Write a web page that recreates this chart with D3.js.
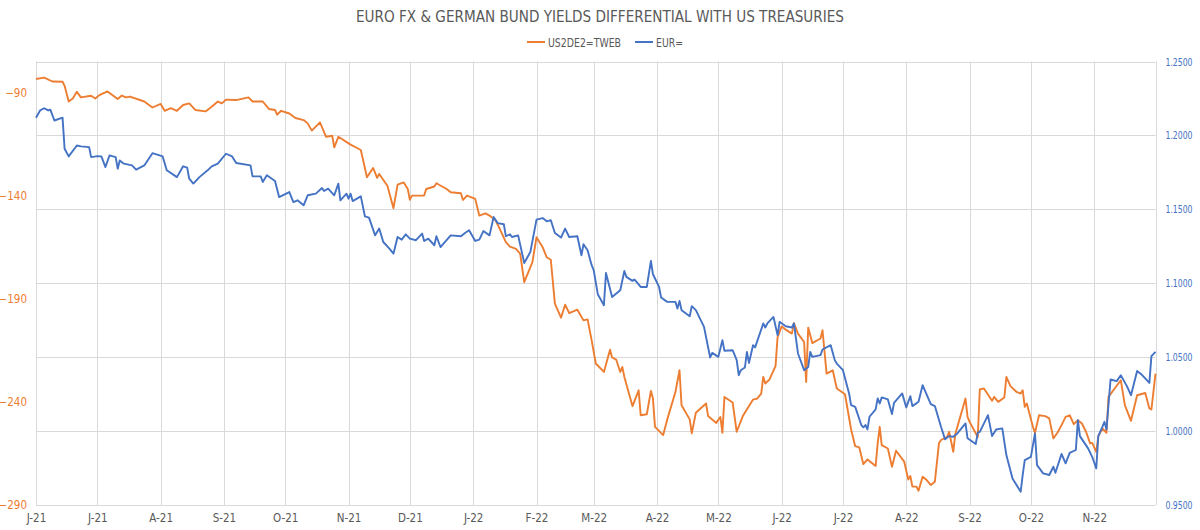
<!DOCTYPE html>
<html>
<head>
<meta charset="utf-8">
<script src="https://cdn.jsdelivr.net/npm/d3@7/dist/d3.min.js"></script>
<style>
  body { margin: 0; background: #fff; }
  text { font-family: "Liberation Sans Narrow", "DejaVu Sans Condensed", Roboto, sans-serif; }
</style>
</head>
<body>
<svg id="chart"></svg>
<script>
// US 2Y - DE 2Y spread (bp), left axis
const spreadDates = [
  "2021-06-01","2021-06-05","2021-06-09","2021-06-14","2021-06-15","2021-06-17","2021-06-19","2021-06-21","2021-06-23","2021-06-28",
  "2021-06-30","2021-07-02","2021-07-06","2021-07-11","2021-07-13","2021-07-15","2021-07-17","2021-07-24","2021-07-28","2021-08-01",
  "2021-08-03","2021-08-06","2021-08-09","2021-08-12","2021-08-15","2021-08-18","2021-08-23","2021-08-26","2021-08-29","2021-08-31",
  "2021-09-02","2021-09-07","2021-09-13","2021-09-15","2021-09-20","2021-09-23","2021-09-26","2021-09-27","2021-09-29","2021-10-03",
  "2021-10-06","2021-10-10","2021-10-12","2021-10-14","2021-10-18","2021-10-21","2021-10-24","2021-10-25","2021-10-27","2021-11-02",
  "2021-11-07","2021-11-10","2021-11-13","2021-11-15","2021-11-16","2021-11-20","2021-11-23","2021-11-25","2021-11-28","2021-11-30",
  "2021-12-01","2021-12-02","2021-12-08","2021-12-09","2021-12-13","2021-12-14","2021-12-19","2021-12-21","2021-12-26","2021-12-27",
  "2021-12-29","2022-01-02","2022-01-04","2022-01-07","2022-01-09","2022-01-12","2022-01-14","2022-01-17","2022-01-19","2022-01-22",
  "2022-01-24","2022-01-26","2022-01-28","2022-01-30","2022-02-01","2022-02-04","2022-02-06","2022-02-08","2022-02-10","2022-02-13",
  "2022-02-15","2022-02-17","2022-02-21","2022-02-24","2022-02-26","2022-02-28","2022-03-02","2022-03-06","2022-03-09","2022-03-10",
  "2022-03-12","2022-03-14","2022-03-15","2022-03-16","2022-03-20","2022-03-23","2022-03-24","2022-03-27","2022-03-29","2022-03-30",
  "2022-03-31","2022-04-04","2022-04-06","2022-04-10","2022-04-12","2022-04-13","2022-04-17","2022-04-18","2022-04-20","2022-04-25",
  "2022-04-26","2022-04-30","2022-05-02","2022-05-03","2022-05-04","2022-05-08","2022-05-10","2022-05-13","2022-05-18","2022-05-20",
  "2022-05-22","2022-05-23","2022-05-24","2022-05-26","2022-05-29","2022-05-30","2022-06-01","2022-06-03","2022-06-06","2022-06-07",
  "2022-06-09","2022-06-12","2022-06-13","2022-06-14","2022-06-16","2022-06-20","2022-06-21","2022-06-23","2022-06-26","2022-06-28",
  "2022-07-02","2022-07-05","2022-07-07","2022-07-09","2022-07-11","2022-07-13","2022-07-17","2022-07-18","2022-07-19","2022-07-20",
  "2022-07-23","2022-07-25","2022-07-27","2022-07-31","2022-08-02","2022-08-03","2022-08-04","2022-08-06","2022-08-07","2022-08-09",
  "2022-08-11","2022-08-13","2022-08-15","2022-08-17","2022-08-18","2022-08-21","2022-08-22","2022-08-24","2022-08-25","2022-08-30",
  "2022-08-31","2022-09-01","2022-09-05","2022-09-06","2022-09-08","2022-09-12","2022-09-13","2022-09-15","2022-09-18","2022-09-19",
  "2022-09-21","2022-09-24","2022-09-26","2022-09-27","2022-09-28","2022-09-29","2022-10-02","2022-10-03","2022-10-05","2022-10-08",
  "2022-10-10","2022-10-12","2022-10-14","2022-10-16","2022-10-18","2022-10-20","2022-10-22","2022-10-24","2022-10-26","2022-10-28",
  "2022-10-30","2022-10-31","2022-11-02","2022-11-03","2022-11-05","2022-11-07","2022-11-08","2022-11-11","2022-11-14","2022-11-16",
  "2022-11-19","2022-11-22","2022-11-26","2022-11-28","2022-11-29","2022-12-01"
];
const spreadValues = [
  -83.5,-82.8,-84.7,-84.8,-86.8,-94.4,-92.9,-89.7,-92.4,-91.6,
  -92.9,-91.3,-89.5,-93.2,-91.5,-92.4,-92.0,-94.4,-97.3,-95.6,
  -98.9,-97.6,-98.9,-96.1,-95.3,-98.5,-99.2,-96.9,-94.4,-95.3,
  -93.5,-93.7,-92.4,-94.4,-94.4,-98.0,-98.5,-100.8,-98.9,-100.2,
  -102.4,-103.4,-105.0,-108.5,-104.5,-111.5,-111.0,-116.6,-111.5,-115.3,
  -117.9,-131.1,-126.6,-131.4,-129.5,-135.2,-146.1,-134.7,-133.6,-136.8,
  -142.1,-140.0,-140.0,-136.8,-135.6,-134.0,-136.8,-138.4,-138.9,-142.1,
  -140.0,-141.6,-149.7,-148.6,-149.7,-152.1,-156.1,-162.6,-164.7,-165.8,
  -168.2,-182.0,-177.1,-172.3,-160.2,-165.0,-169.9,-171.1,-192.4,-199.2,
  -192.9,-197.0,-195.3,-200.5,-200.0,-210.2,-221.4,-225.5,-214.7,-218.5,
  -219.5,-225.5,-223.1,-227.9,-242.1,-234.4,-246.5,-246.0,-234.7,-238.4,
  -252.1,-256.1,-248.5,-235.2,-224.7,-241.6,-248.5,-255.3,-245.3,-240.8,
  -246.9,-250.2,-247.3,-255.0,-237.6,-240.3,-254.5,-246.9,-238.9,-238.4,
  -236.0,-227.9,-231.1,-229.2,-222.7,-208.6,-203.4,-205.0,-206.9,-201.8,
  -206.9,-211.0,-230.3,-204.0,-211.5,-209.3,-205.3,-226.3,-224.7,-233.5,
  -236.3,-253.4,-261.5,-262.1,-270.2,-267.9,-271.1,-260.1,-252.1,-261.0,
  -262.6,-271.5,-263.7,-269.0,-277.6,-276.0,-281.1,-281.1,-283.1,-276.3,
  -277.9,-280.3,-278.7,-260.1,-258.5,-257.0,-254.5,-264.2,-255.6,-238.4,
  -247.3,-249.7,-257.0,-234.0,-233.5,-239.5,-237.6,-240.0,-237.9,-227.9,
  -232.4,-235.2,-236.0,-234.4,-242.4,-240.8,-252.1,-255.0,-246.5,-246.9,
  -248.0,-257.7,-255.0,-251.3,-247.3,-246.5,-250.8,-248.9,-250.5,-254.5,
  -260.1,-259.9,-264.2,-256.6,-252.9,-255.0,-237.6,-233.5,-229.5,-241.6,
  -249.2,-236.8,-235.7,-243.2,-243.7,-226.3
];

// EUR/USD, right axis
const eurDates = [
  "2021-06-01","2021-06-03","2021-06-05","2021-06-07","2021-06-08","2021-06-10","2021-06-14","2021-06-15","2021-06-17","2021-06-21",
  "2021-06-23","2021-06-27","2021-06-28","2021-07-01","2021-07-03","2021-07-05","2021-07-07","2021-07-10","2021-07-11","2021-07-12",
  "2021-07-14","2021-07-18","2021-07-20","2021-07-24","2021-07-28","2021-08-02","2021-08-04","2021-08-09","2021-08-12","2021-08-14",
  "2021-08-15","2021-08-17","2021-08-20","2021-08-24","2021-08-26","2021-08-29","2021-09-02","2021-09-05","2021-09-07","2021-09-14",
  "2021-09-15","2021-09-19","2021-09-20","2021-09-22","2021-09-26","2021-09-28","2021-10-03","2021-10-05","2021-10-07","2021-10-10",
  "2021-10-12","2021-10-16","2021-10-19","2021-10-20","2021-10-22","2021-10-25","2021-10-27","2021-10-28","2021-10-31","2021-11-01",
  "2021-11-02","2021-11-03","2021-11-07","2021-11-09","2021-11-11","2021-11-14","2021-11-16","2021-11-18","2021-11-21","2021-11-23",
  "2021-11-25","2021-11-27","2021-11-29","2021-12-01","2021-12-04","2021-12-07","2021-12-08","2021-12-10","2021-12-13","2021-12-14",
  "2021-12-16","2021-12-21","2021-12-26","2021-12-28","2021-12-30","2022-01-02","2022-01-04","2022-01-06","2022-01-09","2022-01-11",
  "2022-01-13","2022-01-16","2022-01-17","2022-01-19","2022-01-20","2022-01-23","2022-01-26","2022-01-29","2022-02-01","2022-02-04",
  "2022-02-06","2022-02-08","2022-02-10","2022-02-13","2022-02-15","2022-02-17","2022-02-21","2022-02-23","2022-02-24","2022-02-26",
  "2022-02-28","2022-03-01","2022-03-03","2022-03-06","2022-03-07","2022-03-10","2022-03-14","2022-03-16","2022-03-17","2022-03-20",
  "2022-03-21","2022-03-24","2022-03-27","2022-03-29","2022-03-30","2022-04-02","2022-04-03","2022-04-06","2022-04-10","2022-04-11",
  "2022-04-12","2022-04-13","2022-04-17","2022-04-18","2022-04-20","2022-04-24","2022-04-27","2022-04-28","2022-05-01","2022-05-03",
  "2022-05-04","2022-05-08","2022-05-10","2022-05-11","2022-05-12","2022-05-14","2022-05-15","2022-05-16","2022-05-18","2022-05-19",
  "2022-05-23","2022-05-24","2022-05-25","2022-05-28","2022-05-30","2022-05-31","2022-06-03","2022-06-06","2022-06-07","2022-06-09",
  "2022-06-12","2022-06-14","2022-06-15","2022-06-16","2022-06-20","2022-06-21","2022-06-25","2022-06-27","2022-06-28","2022-07-01",
  "2022-07-04","2022-07-05","2022-07-07","2022-07-10","2022-07-11","2022-07-12","2022-07-13","2022-07-14","2022-07-17","2022-07-18",
  "2022-07-19","2022-07-20","2022-07-23","2022-07-25","2022-07-26","2022-07-30","2022-08-01","2022-08-03","2022-08-04","2022-08-07",
  "2022-08-09","2022-08-13","2022-08-15","2022-08-18","2022-08-20","2022-08-22","2022-08-24","2022-08-26","2022-08-30","2022-08-31",
  "2022-09-04","2022-09-05","2022-09-06","2022-09-10","2022-09-12","2022-09-14","2022-09-17","2022-09-19","2022-09-22","2022-09-26",
  "2022-09-27","2022-09-28","2022-10-01","2022-10-03","2022-10-04","2022-10-07","2022-10-10","2022-10-12","2022-10-13","2022-10-16",
  "2022-10-18","2022-10-20","2022-10-23","2022-10-24","2022-10-25","2022-10-29","2022-10-31","2022-11-02","2022-11-03","2022-11-05",
  "2022-11-06","2022-11-07","2022-11-09","2022-11-12","2022-11-14","2022-11-17","2022-11-19","2022-11-22","2022-11-24","2022-11-28",
  "2022-11-29","2022-12-01"
];
const eurValues = [
  1.2120,1.2169,1.2184,1.2169,1.2174,1.2101,1.2120,1.1910,1.1858,1.1932,
  1.1926,1.1921,1.1853,1.1860,1.1858,1.1786,1.1865,1.1853,1.1775,1.1831,
  1.1809,1.1797,1.1768,1.1797,1.1880,1.1858,1.1764,1.1718,1.1791,1.1782,
  1.1707,1.1674,1.1718,1.1764,1.1791,1.1809,1.1876,1.1858,1.1813,1.1797,
  1.1723,1.1723,1.1685,1.1730,1.1691,1.1583,1.1617,1.1549,1.1561,1.1527,
  1.1595,1.1606,1.1644,1.1624,1.1640,1.1595,1.1674,1.1561,1.1606,1.1572,
  1.1606,1.1556,1.1588,1.1453,1.1444,1.1324,1.1370,1.1279,1.1234,1.1201,
  1.1313,1.1295,1.1331,1.1302,1.1291,1.1336,1.1286,1.1302,1.1257,1.1318,
  1.1245,1.1324,1.1318,1.1340,1.1358,1.1286,1.1295,1.1353,1.1324,1.1448,
  1.1407,1.1399,1.1318,1.1331,1.1313,1.1324,1.1137,1.1212,1.1430,1.1441,
  1.1419,1.1426,1.1340,1.1309,1.1370,1.1313,1.1318,1.1189,1.1264,1.1223,
  1.1122,1.1088,1.0926,1.0851,1.1070,1.0907,1.0953,1.1083,1.1043,1.1016,
  1.1025,1.0975,1.0975,1.1151,1.1061,1.0975,1.0903,1.0874,1.0874,1.0829,
  1.0880,1.0818,1.0777,1.0845,1.0818,1.0705,1.0498,1.0529,1.0502,1.0615,
  1.0543,1.0547,1.0480,1.0378,1.0412,1.0430,1.0536,1.0461,1.0581,1.0566,
  1.0728,1.0701,1.0728,1.0772,1.0649,1.0739,1.0709,1.0701,1.0728,1.0525,
  1.0412,1.0434,1.0536,1.0502,1.0514,1.0552,1.0581,1.0480,1.0457,1.0412,
  1.0255,1.0176,1.0164,1.0041,1.0025,1.0041,1.0011,1.0097,1.0147,1.0221,
  1.0187,1.0228,1.0214,1.0115,1.0191,1.0255,1.0160,1.0236,1.0169,1.0198,
  1.0311,1.0182,1.0169,1.0029,0.9944,0.9966,0.9962,0.9984,1.0052,0.9951,
  0.9912,0.9989,0.9995,1.0108,0.9966,1.0011,1.0018,0.9838,0.9680,0.9590,
  0.9703,0.9804,0.9826,0.9984,0.9770,0.9714,0.9703,0.9759,0.9718,0.9845,
  0.9782,0.9853,0.9872,1.0074,0.9966,0.9883,0.9826,0.9748,0.9966,1.0029,
  1.0063,1.0011,1.0349,1.0338,1.0378,1.0304,1.0243,1.0407,1.0385,1.0326,
  1.0507,1.0536
];

const monthStarts = [
  "2021-06-01","2021-07-01","2021-08-01","2021-09-01","2021-10-01","2021-11-01","2021-12-01",
  "2022-01-01","2022-02-01","2022-03-01","2022-04-01","2022-05-01","2022-06-01","2022-07-01",
  "2022-08-01","2022-09-01","2022-10-01","2022-11-01","2022-12-01"
];
const xTickLabels = ["J-21","J-21","A-21","S-21","O-21","N-21","D-21","J-22","F-22","M-22",
  "A-22","M-22","J-22","J-22","A-22","S-22","O-22","N-22"];
const leftTicks = [-290, -240, -190, -140, -90];
const rightTicks = [0.95, 1.00, 1.05, 1.10, 1.15, 1.20, 1.25];
const seriesNames = ["US2DE2=TWEB", "EUR="];
const titleText = "EURO FX & GERMAN BUND YIELDS DIFFERENTIAL WITH US TREASURIES";

const W = 1200, H = 530;
const margin = { top: 61.5, right: 44.5, bottom: 25, left: 36 };
const orange = "#ED7D31", blue = "#4472C4", grid = "#D9D9D9", txt = "#595959";

const parse = d3.timeParse("%Y-%m-%d");
const spread = spreadDates.map((d, i) => ({ date: parse(d), v: spreadValues[i] }));
const eur = eurDates.map((d, i) => ({ date: parse(d), v: eurValues[i] }));
const months = monthStarts.map(parse);

const svg = d3.select("#chart").attr("width", W).attr("height", H);

const x = d3.scaleTime()
  .domain([months[0], months[months.length - 1]])
  .range([margin.left, W - margin.right]);
const yL = d3.scaleLinear().domain([-290, -75]).range([H - margin.bottom, margin.top]);
const yR = d3.scaleLinear().domain([0.95, 1.25]).range([H - margin.bottom, margin.top]);

// gridlines
svg.append("g").selectAll("line").data(rightTicks).enter().append("line")
  .attr("x1", margin.left).attr("x2", W - margin.right)
  .attr("y1", d => Math.round(yR(d)) + 0.5).attr("y2", d => Math.round(yR(d)) + 0.5)
  .attr("stroke", grid).attr("stroke-width", 1);
svg.append("g").selectAll("line").data(months).enter().append("line")
  .attr("x1", d => Math.round(x(d)) + 0.5).attr("x2", d => Math.round(x(d)) + 0.5)
  .attr("y1", margin.top).attr("y2", H - margin.bottom)
  .attr("stroke", grid).attr("stroke-width", 1);

// axes
const xAxis = d3.axisBottom(x).tickValues(months.slice(0, -1))
  .tickFormat((d, i) => xTickLabels[i]).tickSize(0).tickPadding(9);
const gx = svg.append("g").attr("transform", `translate(0,${H - margin.bottom})`).call(xAxis);
gx.select(".domain").remove();
gx.selectAll("text").attr("fill", txt).style("font-size", "11.5px");

const gl = svg.append("g").attr("transform", `translate(${margin.left},0)`)
  .call(d3.axisLeft(yL).tickValues(leftTicks).tickSize(0).tickPadding(9));
gl.select(".domain").remove();
gl.selectAll("text").attr("fill", orange).style("font-size", "11.5px");

const gr = svg.append("g").attr("transform", `translate(${W - margin.right},0)`)
  .call(d3.axisRight(yR).tickValues(rightTicks).tickFormat(d3.format(".4f")).tickSize(0).tickPadding(10));
gr.select(".domain").remove();
gr.selectAll("text").attr("fill", blue).style("font-size", "11px")
  .attr("textLength", 27).attr("lengthAdjust", "spacingAndGlyphs");

// lines
const lineL = d3.line().x(d => x(d.date)).y(d => yL(d.v));
const lineR = d3.line().x(d => x(d.date)).y(d => yR(d.v));
svg.append("path").datum(spread).attr("d", lineL)
  .attr("fill", "none").attr("stroke", orange).attr("stroke-width", 1.9).attr("stroke-linejoin", "round");
svg.append("path").datum(eur).attr("d", lineR)
  .attr("fill", "none").attr("stroke", blue).attr("stroke-width", 1.9).attr("stroke-linejoin", "round");

// title
svg.append("text").attr("x", 600).attr("y", 22).attr("text-anchor", "middle")
  .attr("fill", txt).style("font-size", "15.5px")
  .attr("textLength", 488).attr("lengthAdjust", "spacingAndGlyphs")
  .text(titleText);

// legend
const legend = [
  { name: seriesNames[0], color: orange, x: 527, w: 73 },
  { name: seriesNames[1], color: blue, x: 635, w: 27 }
];
const lg = svg.append("g").selectAll("g").data(legend).enter().append("g")
  .attr("transform", d => `translate(${d.x},42)`);
lg.append("line").attr("x1", 0).attr("x2", 18).attr("stroke", d => d.color).attr("stroke-width", 2);
lg.append("text").attr("x", 21).attr("y", 4.5).attr("fill", txt).style("font-size", "12px")
  .attr("textLength", d => d.w).attr("lengthAdjust", "spacingAndGlyphs")
  .text(d => d.name);
</script>
</body>
</html>
